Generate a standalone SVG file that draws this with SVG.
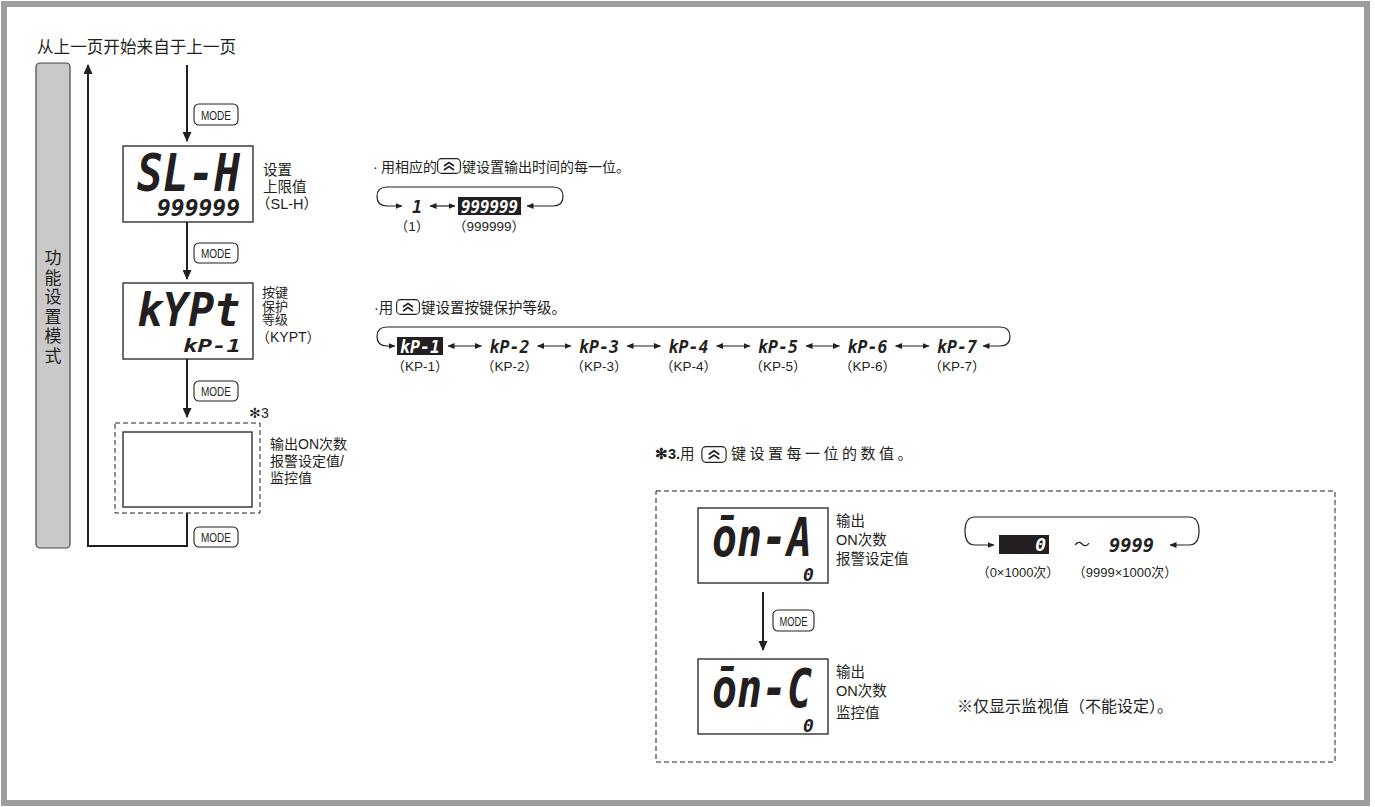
<svg xmlns="http://www.w3.org/2000/svg" width="1375" height="807" viewBox="0 0 1375 807">
<defs>
<style>
.cn{font-family:"Liberation Sans","Noto Sans CJK SC",sans-serif;fill:#231f20}
.seg{font-family:"DejaVu Sans Mono",monospace;font-weight:bold;font-style:oblique;fill:#231f20}
.segw{font-family:"DejaVu Sans Mono",monospace;font-weight:bold;font-style:oblique;fill:#fff}
.box{fill:#fff;stroke:#231f20;stroke-width:1.3}
.conn{fill:none;stroke:#231f20;stroke-width:2}
.thin{fill:none;stroke:#231f20;stroke-width:1.2}
.btn{fill:#fff;stroke:#231f20;stroke-width:1.1}
.btxt{font-family:"Liberation Sans",sans-serif;font-size:12px;fill:#231f20;text-anchor:middle}
.dash{fill:none;stroke:#231f20;stroke-width:1;stroke-dasharray:5 3}
</style>
<marker id="big" markerWidth="10" markerHeight="9" refX="9" refY="4.5" orient="auto" markerUnits="userSpaceOnUse"><path d="M0,0 L10,4.5 L0,9 z" fill="#231f20"/></marker>
<marker id="sm" markerWidth="7" markerHeight="6" refX="6.5" refY="3" orient="auto-start-reverse" markerUnits="userSpaceOnUse"><path d="M0,0 L7,3 L0,6 z" fill="#231f20"/></marker>
<symbol id="key" viewBox="0 0 24 16"><rect x="0.6" y="0.6" width="22.8" height="14.8" rx="4" fill="#fff" stroke="#231f20" stroke-width="1.1"/><polyline points="7,8 12,4.5 17,8" fill="none" stroke="#231f20" stroke-width="1.6"/><polyline points="7,12 12,8.5 17,12" fill="none" stroke="#231f20" stroke-width="1.6"/></symbol>
</defs>
<rect x="0" y="0" width="1375" height="807" fill="#fff"/>
<rect x="4" y="4" width="1363" height="799" fill="#fff" stroke="#9d9d9d" stroke-width="6"/>

<text class="cn" x="37" y="53" font-size="16.6">从上一页开始来自于上一页</text>

<g id="mode-bar">
<rect x="36" y="63" width="34" height="485" rx="4" fill="#c9c9c9" stroke="#444" stroke-width="1.2"/>
<text class="cn" x="53" y="264" font-size="17" text-anchor="middle"><tspan x="53">功</tspan><tspan x="53" dy="19.5">能</tspan><tspan x="53" dy="19.5">设</tspan><tspan x="53" dy="19.5">置</tspan><tspan x="53" dy="19.5">模</tspan><tspan x="53" dy="19.5">式</tspan></text>
</g>

<g id="connectors">
<path class="conn" d="M187,513 V546 H88 V65" marker-end="url(#big)"/>
<path class="conn" d="M187,65 V141" marker-end="url(#big)"/>
<path class="conn" d="M187,222 V279" marker-end="url(#big)"/>
<path class="conn" d="M187,359 V417" marker-end="url(#big)"/>
<path class="conn" d="M763,592 V650" marker-end="url(#big)"/>
<path class="thin" d="M553,187 H387 Q377,187 377,196.5 Q377,206 387,206 H402" marker-end="url(#sm)"/>
<path class="thin" d="M553,187 Q563,187 563,196.5 Q563,206 553,206 H527" marker-end="url(#sm)"/>
<path class="thin" d="M430,206 H455" marker-start="url(#sm)" marker-end="url(#sm)"/>
<path class="thin" d="M1000,327 H387 Q377,327 377,336.5 Q377,346 387,346 H395" marker-end="url(#sm)"/>
<path class="thin" d="M1000,327 Q1010,327 1010,336.5 Q1010,346 1000,346 H983" marker-end="url(#sm)"/>
<path class="thin" d="M448,346 H481.5" marker-start="url(#sm)" marker-end="url(#sm)"/>
<path class="thin" d="M537.5,346 H571" marker-start="url(#sm)" marker-end="url(#sm)"/>
<path class="thin" d="M627,346 H660.5" marker-start="url(#sm)" marker-end="url(#sm)"/>
<path class="thin" d="M716.5,346 H750" marker-start="url(#sm)" marker-end="url(#sm)"/>
<path class="thin" d="M806,346 H839.5" marker-start="url(#sm)" marker-end="url(#sm)"/>
<path class="thin" d="M895.5,346 H929" marker-start="url(#sm)" marker-end="url(#sm)"/>
<path class="thin" d="M1189,517 H975 Q965,517 965,531 Q965,545 975,545 H994" marker-end="url(#sm)"/>
<path class="thin" d="M1189,517 Q1199,517 1199,531 Q1199,545 1189,545 H1170" marker-end="url(#sm)"/>
</g>

<g id="btn-mode-1"><rect class="btn" x="194" y="104" width="44" height="21" rx="5"/><text class="btxt" x="216" y="119.5" textLength="30" lengthAdjust="spacingAndGlyphs">MODE</text></g>
<g id="btn-mode-2"><rect class="btn" x="194" y="243" width="44" height="20" rx="5"/><text class="btxt" x="216" y="258" textLength="30" lengthAdjust="spacingAndGlyphs">MODE</text></g>
<g id="btn-mode-3"><rect class="btn" x="194" y="381" width="44" height="20" rx="5"/><text class="btxt" x="216" y="396" textLength="30" lengthAdjust="spacingAndGlyphs">MODE</text></g>
<g id="btn-mode-4"><rect class="btn" x="194" y="527" width="44" height="20" rx="5"/><text class="btxt" x="216" y="542" textLength="30" lengthAdjust="spacingAndGlyphs">MODE</text></g>
<g id="btn-mode-5"><rect class="btn" x="773" y="610" width="41" height="21" rx="5"/><text class="btxt" x="793.5" y="625.5" textLength="28" lengthAdjust="spacingAndGlyphs">MODE</text></g>

<g id="node-slh">
<rect class="box" x="123" y="146" width="130" height="76"/>
<text class="seg" x="137" y="191" font-size="52" textLength="103" lengthAdjust="spacingAndGlyphs">SL-H</text>
<text class="seg" x="157" y="216" font-size="23" textLength="83" lengthAdjust="spacingAndGlyphs">999999</text>
<text class="cn" x="263" y="175" font-size="14.5">设置</text>
<text class="cn" x="263" y="192" font-size="14.5">上限值</text>
<text class="cn" x="256" y="209" font-size="14.5">（SL-H）</text>
</g>

<g id="node-kypt">
<rect class="box" x="123" y="283" width="130" height="76"/>
<text class="seg" x="137" y="326" font-size="46" textLength="103" lengthAdjust="spacingAndGlyphs">kYPt</text>
<text class="seg" x="183" y="352" font-size="18" textLength="58" lengthAdjust="spacingAndGlyphs">kP-1</text>
<text class="cn" x="262" y="297" font-size="13">按键</text>
<text class="cn" x="262" y="310.5" font-size="13">保护</text>
<text class="cn" x="262" y="324" font-size="13">等级</text>
<text class="cn" x="256" y="342" font-size="14">（KYPT）</text>
</g>

<g id="node-on">
<rect class="dash" x="115" y="423" width="145" height="90"/>
<rect class="box" x="123" y="432" width="129" height="75"/>
<text class="cn" x="249" y="418" font-size="14">✻3</text>
<text class="cn" x="270" y="449" font-size="14">输出ON次数</text>
<text class="cn" x="270" y="466" font-size="14">报警设定值/</text>
<text class="cn" x="270" y="483" font-size="14">监控值</text>
</g>

<g id="note-slh">
<text class="cn" x="373" y="172" font-size="14">·</text>
<text class="cn" x="381" y="172" font-size="14">用相应的</text>
<use href="#key" x="437" y="158" width="24" height="16"/>
<text class="cn" x="462" y="172" font-size="14">键设置输出时间的每一位。</text>
<text class="seg" x="417" y="213" font-size="17" text-anchor="middle">1</text>
<rect x="458" y="197" width="63" height="18" fill="#231f20"/>
<text class="segw" x="461" y="212.5" font-size="17" textLength="57" lengthAdjust="spacingAndGlyphs">999999</text>
<text class="cn" x="412" y="231" font-size="13.5" text-anchor="middle">（1）</text>
<text class="cn" x="489" y="231" font-size="13.5" text-anchor="middle">（999999）</text>
</g>

<g id="note-kypt">
<text class="cn" x="374" y="313" font-size="14.5">·用</text>
<use href="#key" x="396" y="299" width="24" height="16"/>
<text class="cn" x="421" y="313" font-size="14.5">键设置按键保护等级。</text>
<rect x="397" y="337" width="46" height="18" fill="#231f20"/>
<text class="segw" x="420" y="352.5" font-size="17" text-anchor="middle" textLength="40" lengthAdjust="spacingAndGlyphs">kP-1</text>
<text class="seg" x="509.5" y="352.5" font-size="17" text-anchor="middle" textLength="40" lengthAdjust="spacingAndGlyphs">kP-2</text>
<text class="seg" x="599" y="352.5" font-size="17" text-anchor="middle" textLength="40" lengthAdjust="spacingAndGlyphs">kP-3</text>
<text class="seg" x="688.5" y="352.5" font-size="17" text-anchor="middle" textLength="40" lengthAdjust="spacingAndGlyphs">kP-4</text>
<text class="seg" x="778" y="352.5" font-size="17" text-anchor="middle" textLength="40" lengthAdjust="spacingAndGlyphs">kP-5</text>
<text class="seg" x="867.5" y="352.5" font-size="17" text-anchor="middle" textLength="40" lengthAdjust="spacingAndGlyphs">kP-6</text>
<text class="seg" x="957" y="352.5" font-size="17" text-anchor="middle" textLength="40" lengthAdjust="spacingAndGlyphs">kP-7</text>
<text class="cn" x="420" y="371" font-size="13.5" text-anchor="middle">（KP-1）</text>
<text class="cn" x="509.5" y="371" font-size="13.5" text-anchor="middle">（KP-2）</text>
<text class="cn" x="599" y="371" font-size="13.5" text-anchor="middle">（KP-3）</text>
<text class="cn" x="688.5" y="371" font-size="13.5" text-anchor="middle">（KP-4）</text>
<text class="cn" x="778" y="371" font-size="13.5" text-anchor="middle">（KP-5）</text>
<text class="cn" x="867.5" y="371" font-size="13.5" text-anchor="middle">（KP-6）</text>
<text class="cn" x="957" y="371" font-size="13.5" text-anchor="middle">（KP-7）</text>
</g>

<g id="note-3">
<text class="cn" x="655" y="459" font-size="14.5"><tspan font-weight="bold">✻3.</tspan>用</text>
<use href="#key" x="700" y="446" width="28" height="17"/>
<text class="cn" x="731" y="459" font-size="15" letter-spacing="3.5">键设置每一位的数值。</text>
<rect class="dash" x="656" y="491" width="679" height="271"/>
</g>

<g id="node-on-a">
<rect class="box" x="698" y="508" width="130" height="75"/>
<text class="seg" x="712" y="556" font-size="54" textLength="100" lengthAdjust="spacingAndGlyphs">ōn-A</text>
<text class="seg" x="803" y="581" font-size="18">0</text>
<text class="cn" x="836" y="526" font-size="14.5">输出</text>
<text class="cn" x="836" y="545" font-size="14.5">ON次数</text>
<text class="cn" x="836" y="564" font-size="14.5">报警设定值</text>
</g>

<g id="range-on-a">
<rect x="999" y="535" width="50" height="19" fill="#231f20"/>
<text class="segw" x="1046" y="551" font-size="18" text-anchor="end">0</text>
<text class="cn" x="1082" y="550" font-size="16" text-anchor="middle">～</text>
<text class="seg" x="1109" y="552" font-size="19" textLength="45" lengthAdjust="spacingAndGlyphs">9999</text>
<text class="cn" x="1018" y="577" font-size="13" text-anchor="middle">（0×1000次）</text>
<text class="cn" x="1125" y="577" font-size="13" text-anchor="middle">（9999×1000次）</text>
</g>

<g id="node-on-c">
<rect class="box" x="698" y="659" width="130" height="75"/>
<text class="seg" x="712" y="707" font-size="54" textLength="100" lengthAdjust="spacingAndGlyphs">ōn-C</text>
<text class="seg" x="803" y="732" font-size="18">0</text>
<text class="cn" x="836" y="677" font-size="14.5">输出</text>
<text class="cn" x="836" y="696" font-size="14.5">ON次数</text>
<text class="cn" x="836" y="718" font-size="14.5">监控值</text>
<text class="cn" x="957" y="712" font-size="16">※仅显示监视值（不能设定）。</text>
</g>
</svg>
